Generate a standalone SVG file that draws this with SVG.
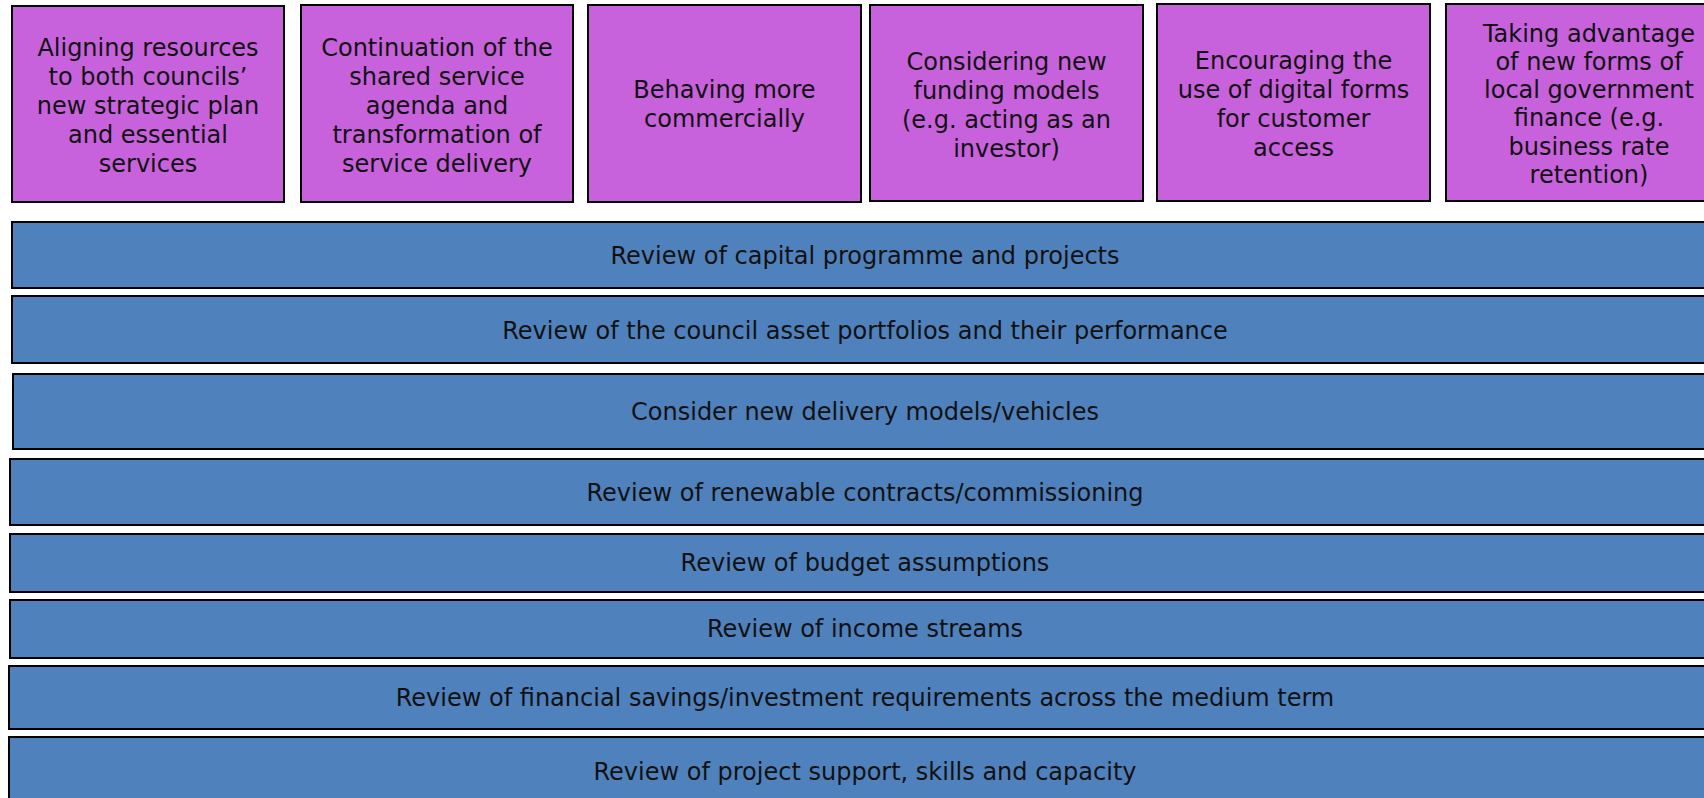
<svg xmlns="http://www.w3.org/2000/svg" width="1704" height="798" viewBox="0 0 1704 798">
<style>
.top{fill:#C862DC;stroke:#000;stroke-width:2}
.bar{fill:#4F81BD;stroke:#000;stroke-width:2}
text{font-family:"DejaVu Sans","Verdana",sans-serif;font-size:24px;fill:#111;text-anchor:middle}
</style>
<rect width="1704" height="798" fill="#fff"/>
<g id="box1"><rect class="top" x="12" y="6" width="272" height="196"/>
<text x="148" y="56">Aligning resources</text><text x="148" y="85">to both councils’</text><text x="148" y="114">new strategic plan</text><text x="148" y="143">and essential</text><text x="148" y="172">services</text></g>
<g id="box2"><rect class="top" x="301" y="5" width="272" height="197"/>
<text x="437" y="56">Continuation of the</text><text x="437" y="85">shared service</text><text x="437" y="114">agenda and</text><text x="437" y="143">transformation of</text><text x="437" y="172">service delivery</text></g>
<g id="box3"><rect class="top" x="588" y="5" width="273" height="197"/>
<text x="724.5" y="98">Behaving more</text><text x="724.5" y="127">commercially</text></g>
<g id="box4"><rect class="top" x="870" y="5" width="273" height="196"/>
<text x="1006.5" y="70">Considering new</text><text x="1006.5" y="99">funding models</text><text x="1006.5" y="128">(e.g. acting as an</text><text x="1006.5" y="157">investor)</text></g>
<g id="box5"><rect class="top" x="1157" y="4" width="273" height="197"/>
<text x="1293.5" y="69">Encouraging the</text><text x="1293.5" y="98">use of digital forms</text><text x="1293.5" y="127">for customer</text><text x="1293.5" y="156">access</text></g>
<g id="box6"><rect class="top" x="1446" y="4" width="286" height="197"/>
<text x="1589" y="42">Taking advantage</text><text x="1589" y="70">of new forms of</text><text x="1589" y="98">local government</text><text x="1589" y="126">finance (e.g.</text><text x="1589" y="155">business rate</text><text x="1589" y="183">retention)</text></g>
<g id="bar1"><rect class="bar" x="12" y="222" width="1708" height="66"/><text x="865" y="264">Review of capital programme and projects</text></g>
<g id="bar2"><rect class="bar" x="12" y="296" width="1708" height="67"/><text x="865" y="339">Review of the council asset portfolios and their performance</text></g>
<g id="bar3"><rect class="bar" x="13" y="374" width="1707" height="75"/><text x="865" y="420">Consider new delivery models/vehicles</text></g>
<g id="bar4"><rect class="bar" x="10" y="459" width="1710" height="66"/><text x="865" y="501">Review of renewable contracts/commissioning</text></g>
<g id="bar5"><rect class="bar" x="10" y="534" width="1710" height="58"/><text x="865" y="571">Review of budget assumptions</text></g>
<g id="bar6"><rect class="bar" x="10" y="600" width="1710" height="58"/><text x="865" y="637">Review of income streams</text></g>
<g id="bar7"><rect class="bar" x="9" y="666" width="1711" height="63"/><text x="865" y="706">Review of financial savings/investment requirements across the medium term</text></g>
<g id="bar8"><rect class="bar" x="9" y="737" width="1711" height="70"/><text x="865" y="780">Review of project support, skills and capacity</text></g>
<g id="connectors"/>
</svg>
